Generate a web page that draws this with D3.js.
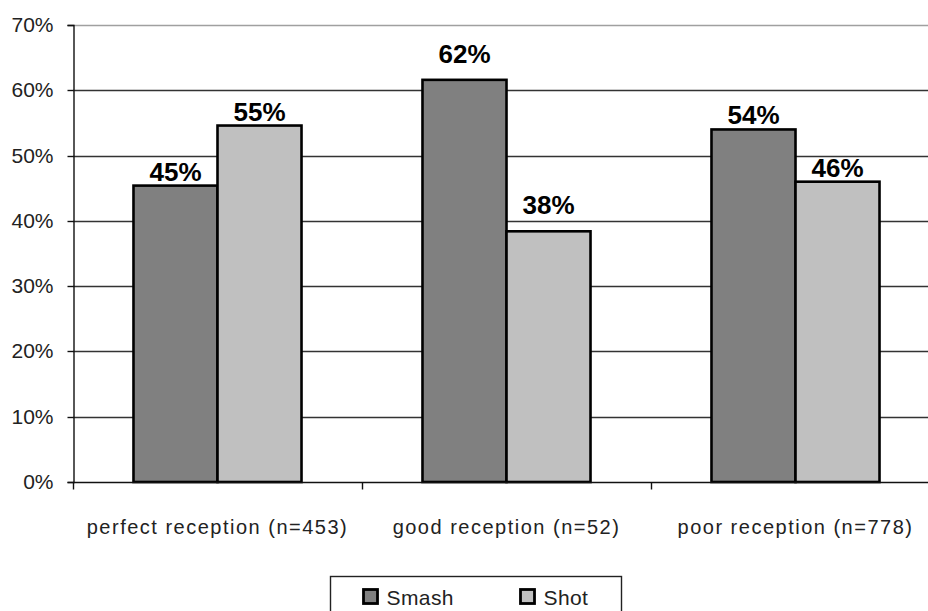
<!DOCTYPE html>
<html>
<head>
<meta charset="utf-8">
<script src="https://cdn.jsdelivr.net/npm/d3@7"></script>
<style>
  html, body { margin: 0; padding: 0; background: #fff; }
  svg { display: block; }
  text { font-family: "Liberation Sans", Arial, sans-serif; }
</style>
</head>
<body>
<svg id="chart" width="928" height="611"></svg>
<script>
// Share of final strokes by reception quality
const categories = ["perfect reception (n=453)", "good reception (n=52)", "poor reception (n=778)"];
const seriesNames = ["Smash", "Shot"];
const smash = [45.4, 61.6, 54.0];
const shot = [54.6, 38.4, 46.0];
const yTicks = [0, 10, 20, 30, 40, 50, 60, 70];

const colors = { Smash: "#808080", Shot: "#c0c0c0" };
const values = { Smash: smash, Shot: shot };

const svg = d3.select("#chart");
const W = 928, H = 611;
const margin = { left: 73, top: 25, right: -12, bottom: 129 };
const x0 = margin.left, x1 = W - margin.right;
const yTop = margin.top, yBot = H - margin.bottom;

const x = d3.scaleBand().domain(categories).range([x0, x1]).padding(0);
const xs = d3.scaleBand().domain(seriesNames).range([0, x.bandwidth()])
  .paddingInner(0).paddingOuter(0.72);
const y = d3.scaleLinear().domain([0, 70]).range([yBot, yTop]);
const py = v => Math.round(y(v)) + 0.5;

// horizontal gridlines
svg.append("g").selectAll("line").data(yTicks.filter(t => t > 0)).join("line")
  .attr("x1", x0).attr("x2", x1)
  .attr("y1", d => py(d)).attr("y2", d => py(d))
  .attr("stroke", d => d === 70 ? "#a0a0a0" : "#333")
  .attr("stroke-width", 1.4);

// y axis
const yAxis = svg.append("g").attr("transform", `translate(${x0 + 0.5},0)`)
  .call(d3.axisLeft(y).tickValues(yTicks).tickFormat(d => d + "%").tickSize(6).tickPadding(14));
yAxis.select(".domain").attr("stroke", "#111").attr("stroke-width", 1.4);
yAxis.selectAll(".tick").attr("transform", d => `translate(0,${py(d)})`);
yAxis.selectAll(".tick line").attr("stroke", "#111").attr("stroke-width", 1.4);
yAxis.selectAll("text").attr("font-size", 21).attr("fill", "#222")
  .attr("font-family", "Liberation Sans, Arial, sans-serif");

// bars
const groups = svg.append("g").selectAll("g").data(categories).join("g")
  .attr("transform", d => `translate(${x(d)},0)`);

const rows = (d, i) => seriesNames.map(s => ({ s, v: values[s][i], g: i }));

groups.selectAll("rect").data(rows).join("rect")
  .attr("x", d => xs(d.s))
  .attr("width", xs.bandwidth())
  .attr("y", d => y(d.v))
  .attr("height", d => yBot - y(d.v))
  .attr("fill", d => colors[d.s])
  .attr("stroke", "#000")
  .attr("stroke-width", 2.6);

// value labels (the middle group's labels sit higher above its bars)
groups.selectAll("text.val").data(rows).join("text").attr("class", "val")
  .attr("x", d => xs(d.s) + xs.bandwidth() / 2)
  .attr("y", d => y(d.v) - (d.g === 1 ? 17 : 5))
  .attr("text-anchor", "middle")
  .attr("font-size", 26).attr("font-weight", "bold").attr("fill", "#000")
  .text(d => d3.format(".0f")(d.v) + "%");

// x axis
const xAxis = svg.append("g").attr("transform", `translate(0,${yBot + 0.5})`);
xAxis.append("line").attr("x1", x0).attr("x2", x1).attr("stroke", "#111").attr("stroke-width", 1.4);
xAxis.selectAll("line.tick").data(categories.map(c => x(c)).concat([x1])).join("line")
  .attr("class", "tick")
  .attr("x1", d => Math.round(d) + 0.5).attr("x2", d => Math.round(d) + 0.5)
  .attr("y1", 0).attr("y2", 7).attr("stroke", "#111").attr("stroke-width", 1.4);
xAxis.selectAll("text").data(categories).join("text")
  .attr("x", d => x(d) + x.bandwidth() / 2)
  .attr("y", 51)
  .attr("text-anchor", "middle")
  .attr("font-size", 20).attr("fill", "#222").attr("letter-spacing", 1.5)
  .text(d => d);

// legend
const legend = svg.append("g");
legend.append("rect").attr("x", 330.5).attr("y", 576.5).attr("width", 291).attr("height", 50)
  .attr("fill", "#fff").attr("stroke", "#222").attr("stroke-width", 1.4);
const legX = [363.5, 520.5];
const items = legend.selectAll("g").data(seriesNames).join("g")
  .attr("transform", (d, i) => `translate(${legX[i]},589.5)`);
items.append("rect").attr("width", 14).attr("height", 14)
  .attr("fill", d => colors[d]).attr("stroke", "#000").attr("stroke-width", 2.8);
items.append("text").attr("x", 23).attr("y", 15)
  .attr("font-size", 21).attr("fill", "#222").attr("letter-spacing", 0.4)
  .text(d => d);
</script>
</body>
</html>
